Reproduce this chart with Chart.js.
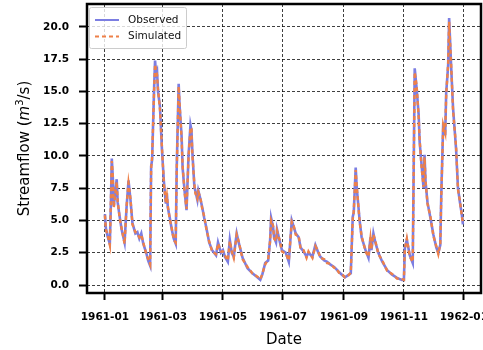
<!DOCTYPE html>
<html>
<head>
<meta charset="utf-8">
<script src="https://cdn.jsdelivr.net/npm/chart.js@4.4.1/dist/chart.umd.min.js"></script>
<style>
  html, body { margin: 0; padding: 0; background: #fff; }
  canvas { display: block; }
</style>
</head>
<body>
<canvas id="myChart" width="483" height="350"></canvas>
<script>
// day of year (0 = 1961-01-01) for each reading
const days = [
  0, 1, 3, 5, 6, 7, 8, 9, 12, 13,
  15, 17, 20, 22, 24, 26, 28, 31, 33, 35,
  37, 39, 42, 44, 46, 47, 48, 50, 51, 52,
  53, 54, 56, 58, 60, 62, 63, 64, 66, 68,
  70, 72, 73, 75, 76, 78, 79, 81, 83, 85,
  87, 88, 89, 91, 92, 94, 95, 97, 99, 101,
  103, 106, 109, 113, 115, 118, 120, 122, 125, 127,
  129, 131, 134, 136, 140, 145, 150, 155, 158, 160,
  163, 166, 168, 169, 171, 172, 174, 175, 178, 180,
  184, 187, 190, 192, 194, 197, 199, 202, 205, 207,
  211, 214, 217, 219, 223, 226, 229, 233, 235, 238,
  241, 244, 247, 250, 252, 253, 255, 256, 259, 261,
  265, 268, 270, 271, 273, 275, 278, 282, 287, 292,
  297, 302, 304, 305, 307, 310, 313, 315, 317, 319,
  320, 322, 324, 325, 326, 328, 331, 334, 337, 339,
  341, 342, 344, 346, 347, 349, 350, 352, 354, 357,
  359, 361, 363, 364
];

const observed = [
  5.5, 4.4, 3.7, 3.2, 6.0, 9.8, 8.4, 6.1, 8.2, 6.4,
  5.3, 4.3, 3.3, 6.0, 8.1, 6.6, 4.8, 4.0, 4.1, 3.6,
  4.0, 3.2, 2.5, 1.9, 1.5, 9.2, 9.7, 15.2, 17.4, 16.4,
  16.6, 15.0, 13.8, 10.5, 8.0, 6.3, 7.1, 6.0, 5.2, 4.3,
  3.6, 3.2, 9.0, 15.6, 13.8, 11.5, 9.1, 7.3, 5.8, 10.0,
  12.4, 12.0, 10.2, 7.6, 7.3, 6.6, 7.3, 6.7, 6.0, 5.2,
  4.5, 3.3, 2.7, 2.3, 3.3, 2.5, 2.7, 2.2, 1.8, 3.5,
  2.5, 2.2, 4.0, 3.3, 2.1, 1.3, 0.9, 0.6, 0.4, 0.8,
  1.7, 1.9, 3.5, 5.2, 4.5, 3.7, 3.3, 4.3, 3.3, 2.7,
  2.5, 1.8, 5.0, 4.5, 4.0, 3.7, 2.9, 2.6, 2.2, 2.5,
  2.2, 3.1, 2.5, 2.2, 1.9, 1.8, 1.6, 1.4, 1.25, 1.0,
  0.8, 0.6, 0.75, 0.9, 5.3, 5.6, 9.1, 7.6, 5.0, 3.7,
  2.7, 2.1, 3.7, 2.7, 4.0, 3.3, 2.5, 1.8, 1.15, 0.8,
  0.55, 0.4, 0.4, 2.9, 3.5, 2.3, 1.7, 16.8, 15.2, 13.2,
  11.1, 9.3, 7.5, 10.1, 8.0, 6.4, 5.2, 3.9, 2.9, 2.5,
  3.1, 7.0, 12.6, 11.6, 14.9, 17.0, 20.7, 17.0, 13.7, 10.6,
  7.5, 6.4, 5.4, 4.7
];

const simulated = [
  5.4, 4.3, 3.8, 3.1, 6.2, 9.6, 8.5, 6.0, 8.0, 6.5,
  5.2, 4.4, 3.2, 6.1, 7.9, 6.7, 4.7, 4.1, 4.0, 3.7,
  3.9, 3.3, 2.4, 2.0, 1.6, 9.0, 9.9, 15.0, 17.1, 16.6,
  16.3, 15.2, 13.6, 10.7, 7.8, 6.4, 6.9, 6.1, 5.1, 4.4,
  3.5, 3.3, 8.8, 15.4, 14.0, 11.3, 9.3, 7.2, 5.9, 9.8,
  12.2, 12.1, 10.0, 7.8, 7.1, 6.7, 7.2, 6.8, 5.9, 5.3,
  4.4, 3.4, 2.6, 2.4, 3.2, 2.6, 2.6, 2.3, 1.9, 3.4,
  2.6, 2.1, 3.9, 3.4, 2.0, 1.4, 0.9, 0.65, 0.45, 0.85,
  1.6, 2.0, 3.4, 5.0, 4.6, 3.6, 3.4, 4.2, 3.4, 2.6,
  2.4, 1.9, 4.9, 4.6, 3.9, 3.8, 2.8, 2.7, 2.1, 2.6,
  2.1, 3.0, 2.6, 2.1, 2.0, 1.7, 1.65, 1.35, 1.3, 0.95,
  0.85, 0.6, 0.7, 0.95, 5.1, 5.7, 8.9, 7.7, 4.9, 3.8,
  2.6, 2.2, 3.6, 2.8, 3.9, 3.4, 2.4, 1.9, 1.1, 0.85,
  0.5, 0.45, 0.4, 2.8, 3.6, 2.2, 1.8, 16.5, 15.4, 13.0,
  11.3, 9.1, 7.6, 9.9, 8.1, 6.3, 5.3, 3.8, 3.0, 2.4,
  3.2, 6.8, 12.4, 11.8, 14.7, 17.2, 20.4, 17.2, 13.5, 10.8,
  7.4, 6.5, 5.3, 4.8
];

const tickDays = [0, 59, 120, 181, 243, 304, 365];
const tickLabels = ['1961-01', '1961-03', '1961-05', '1961-07', '1961-09', '1961-11', '1962-01'];
const yTicks = [0, 2.5, 5, 7.5, 10, 12.5, 15, 17.5, 20];

const FONT = "'DejaVu Sans', sans-serif";

// black box around the plot area
const frame = {
  id: 'frame',
  afterDatasetsDraw(chart) {
    const { left, right, top, bottom } = chart.chartArea;
    const ctx = chart.ctx;
    ctx.save();
    ctx.strokeStyle = '#000';
    ctx.lineWidth = 2.5;
    ctx.strokeRect(left, top, right - left, bottom - top);
    ctx.restore();
  }
};

// legend in the upper left corner of the plot
const legendBox = {
  id: 'legendBox',
  afterDraw(chart) {
    const ctx = chart.ctx;
    ctx.save();
    ctx.fillStyle = 'rgba(255,255,255,0.8)';
    ctx.strokeStyle = '#cccccc';
    ctx.lineWidth = 1;
    ctx.beginPath();
    ctx.roundRect(89.5, 7.5, 97, 41, 2);
    ctx.fill();
    ctx.stroke();
    chart.data.datasets.forEach((ds, i) => {
      const y = 20 + i * 16.5;
      ctx.strokeStyle = ds.borderColor;
      ctx.lineWidth = 2;
      ctx.setLineDash(ds.borderDash || []);
      ctx.beginPath();
      ctx.moveTo(95, y);
      ctx.lineTo(119, y);
      ctx.stroke();
      ctx.setLineDash([]);
      ctx.fillStyle = '#111';
      ctx.font = `10.5px ${FONT}`;
      ctx.textBaseline = 'middle';
      ctx.fillText(ds.label, 128, y);
    });
    ctx.restore();
  }
};

// y axis title with italic m and superscript 3
const yTitle = {
  id: 'yTitle',
  afterDraw(chart) {
    const ctx = chart.ctx;
    const { top, bottom } = chart.chartArea;
    const parts = [
      { t: 'Streamflow (', f: `15px ${FONT}`, dy: 0 },
      { t: 'm', f: `italic 15px ${FONT}`, dy: 0 },
      { t: '3', f: `10px ${FONT}`, dy: -5 },
      { t: '/s)', f: `15px ${FONT}`, dy: 0 }
    ];
    ctx.save();
    let total = 0;
    parts.forEach((p) => {
      ctx.font = p.f;
      p.w = ctx.measureText(p.t).width;
      total += p.w;
    });
    ctx.translate(25, (top + bottom) / 2);
    ctx.rotate(-Math.PI / 2);
    ctx.fillStyle = '#000';
    ctx.textBaseline = 'middle';
    let x = -total / 2;
    parts.forEach((p) => {
      ctx.font = p.f;
      ctx.fillText(p.t, x, p.dy);
      x += p.w;
    });
    ctx.restore();
  }
};

const ctx = document.getElementById('myChart');
new Chart(ctx, {
  type: 'line',
  data: {
    datasets: [{
      label: 'Observed',
      data: days.map((d, i) => ({ x: d, y: observed[i] })),
      borderColor: '#7c7ee2',
      borderWidth: 2.6,
      pointRadius: 0,
      tension: 0,
      order: 1
    }, {
      label: 'Simulated',
      data: days.map((d, i) => ({ x: d, y: simulated[i] })),
      borderColor: '#ee8048',
      borderWidth: 2.4,
      borderDash: [4, 3],
      pointRadius: 0,
      tension: 0,
      order: 0
    }]
  },
  options: {
    responsive: false,
    animation: false,
    devicePixelRatio: 1,
    layout: { padding: { top: 4, right: 2, left: 0, bottom: 0 } },
    plugins: {
      legend: { display: false },
      tooltip: { enabled: false }
    },
    scales: {
      x: {
        type: 'linear',
        min: -18.2,
        max: 382.4,
        afterBuildTicks: (scale) => {
          scale.ticks = tickDays.map((v) => ({ value: v }));
        },
        afterFit: (scale) => {
          scale.height = 57;
          scale.paddingLeft = 0;
          scale.paddingRight = 0;
        },
        ticks: {
          autoSkip: false,
          maxRotation: 0,
          minRotation: 0,
          padding: 11,
          color: '#000',
          font: { family: FONT, size: 10.5, weight: 'bold' },
          callback: (value) => tickLabels[tickDays.indexOf(value)]
        },
        grid: {
          color: 'rgba(0,0,0,0.75)',
          lineWidth: 1,
          tickLength: 7,
          tickColor: '#000',
          tickWidth: 2
        },
        border: { display: false, dash: [3, 2] },
        title: {
          display: true,
          text: 'Date',
          color: '#000',
          font: { family: FONT, size: 15 },
          padding: { top: 0, bottom: 1 }
        }
      },
      y: {
        min: -0.62,
        max: 21.78,
        afterBuildTicks: (scale) => {
          scale.ticks = yTicks.map((v) => ({ value: v }));
        },
        afterFit: (scale) => {
          scale.width = 87;
          scale.paddingTop = 0;
          scale.paddingBottom = 0;
        },
        ticks: {
          padding: 10,
          color: '#000',
          font: { family: FONT, size: 10.5, weight: 'bold' },
          callback: (value) => value.toFixed(1)
        },
        grid: {
          color: 'rgba(0,0,0,0.75)',
          lineWidth: 1,
          tickLength: 8,
          tickColor: '#000',
          tickWidth: 2
        },
        border: { display: false, dash: [3, 2] }
      }
    }
  },
  plugins: [frame, legendBox, yTitle]
});
</script>
</body>
</html>
